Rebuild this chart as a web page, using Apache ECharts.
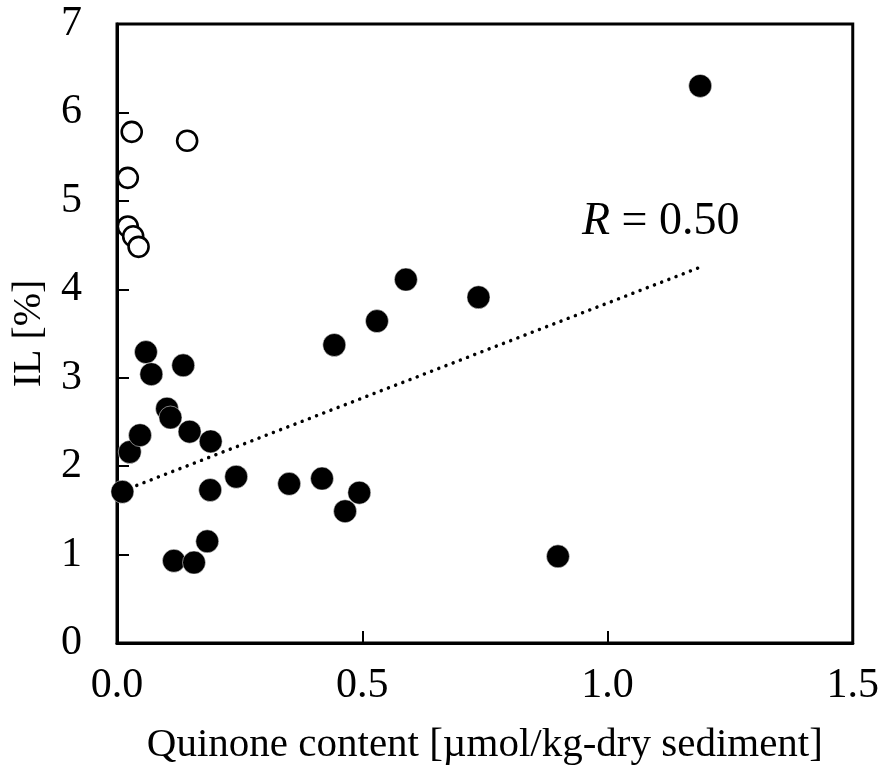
<!DOCTYPE html>
<html>
<head>
<meta charset="utf-8">
<script src="https://cdn.jsdelivr.net/npm/echarts@6/dist/echarts.min.js"></script>
<style>
html,body{margin:0;padding:0;background:#fff;}
#chart{width:882px;height:774px;}
</style>
</head>
<body>
<div id="chart"></div>
<script>
// Filled circles: [quinone content, IL]
const filledX = [0.011, 0.026, 0.047, 0.059, 0.070, 0.102, 0.109, 0.116, 0.135, 0.148, 0.157, 0.184, 0.190, 0.191, 0.243, 0.351, 0.418, 0.443, 0.465, 0.494, 0.530, 0.589, 0.737, 0.899, 1.189];
const filledY = [1.71, 2.16, 2.35, 3.29, 3.04, 2.65, 2.55, 0.93, 3.14, 2.39, 0.91, 1.15, 1.73, 2.28, 1.88, 1.80, 1.86, 3.37, 1.49, 1.70, 3.64, 4.11, 3.91, 0.98, 6.30];
// Open circles
const openX = [0.030, 0.143, 0.022, 0.022, 0.033, 0.044];
const openY = [5.78, 5.68, 5.26, 4.71, 4.60, 4.48];
// Regression line endpoints
const trendX = [0.011, 1.189];
const trendY = [1.72, 4.25];
const xTicks = ['0.0', '0.5', '1.0', '1.5'];
const yTicks = ['0', '1', '2', '3', '4', '5', '6', '7'];

const FONT = '"Liberation Serif", "Times New Roman", serif';
const chart = echarts.init(document.getElementById('chart'));
const zip = (a, b) => a.map((v, i) => [v, b[i]]);

chart.setOption({
  animation: false,
  backgroundColor: '#fff',
  grid: { left: 117, top: 24, right: 24, bottom: 131, show: true, borderColor: '#000', borderWidth: 3, backgroundColor: 'transparent' },
  xAxis: {
    type: 'value', min: 0, max: 1.5, interval: 0.5,
    name: 'Quinone content [µmol/kg-dry sediment]',
    nameLocation: 'middle', nameGap: 82,
    nameTextStyle: { fontFamily: FONT, fontSize: 41, color: '#000' },
    axisLine: { show: true, lineStyle: { color: '#000', width: 3 } },
    axisTick: { show: true, inside: true, length: 12, lineStyle: { color: '#000', width: 2 } },
    axisLabel: { fontFamily: FONT, fontSize: 42, color: '#000', margin: 22,
      formatter: v => xTicks[Math.round(v / 0.5)] },
    splitLine: { show: false }
  },
  yAxis: {
    type: 'value', min: 0, max: 7, interval: 1,
    name: 'IL [%]',
    nameLocation: 'middle', nameGap: 68, nameRotate: 90,
    nameTextStyle: { fontFamily: FONT, fontSize: 40, color: '#000' },
    axisLine: { show: true, lineStyle: { color: '#000', width: 3 } },
    axisTick: { show: true, inside: true, length: 12, lineStyle: { color: '#000', width: 2 } },
    axisLabel: { fontFamily: FONT, fontSize: 42, color: '#000', margin: 35,
      formatter: v => yTicks[Math.round(v)] },
    splitLine: { show: false }
  },
  series: [
    {
      type: 'line', data: zip(trendX, trendY), symbol: 'none', silent: true,
      lineStyle: { color: '#000', width: 3.5, type: [0.01, 7.7], cap: 'round' },
      z: 1
    },
    {
      type: 'scatter', data: zip(openX, openY), symbol: 'circle', symbolSize: 20,
      itemStyle: { color: '#fff', borderColor: '#000', borderWidth: 2.6, opacity: 1 },
      z: 3
    },
    {
      type: 'scatter', data: zip(filledX, filledY), symbol: 'circle', symbolSize: 23,
      itemStyle: { color: '#000', borderColor: '#fff', borderWidth: 0.5, opacity: 1 },
      z: 2
    }
  ],
  graphic: [{
    type: 'text', left: 582, top: 199,
    style: {
      text: '{i|R} = 0.50',
      font: '46px ' + FONT,
      fill: '#000',
      rich: { i: { fontFamily: FONT, fontSize: 46, fontStyle: 'italic', fill: '#000' } }
    }
  }]
});
</script>
</body>
</html>
